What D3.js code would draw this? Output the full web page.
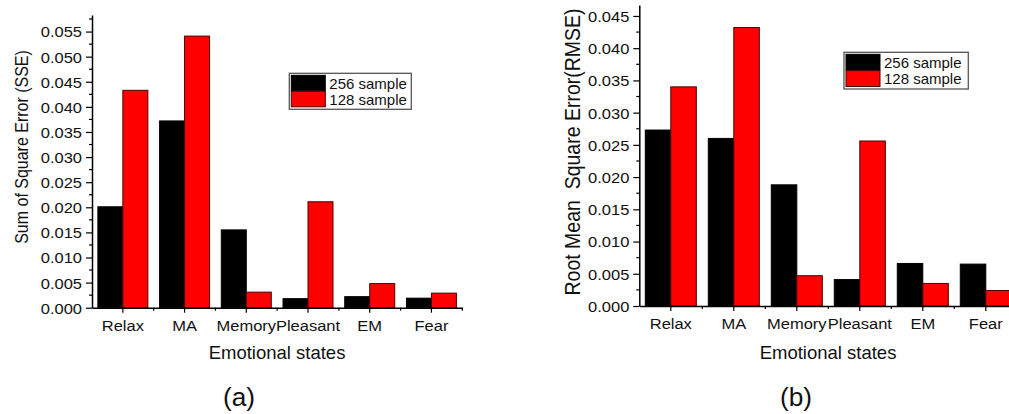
<!DOCTYPE html>
<html>
<head>
<meta charset="utf-8">
<script src="https://cdn.jsdelivr.net/npm/d3@7"></script>
<style>
  html, body { margin: 0; padding: 0; background: #fff; }
  svg { display: block; font-family: Arial, "Liberation Sans", sans-serif; }
</style>
</head>
<body>
<svg id="chart" width="1009" height="414"></svg>
<script>
// Emotional-state categories shared by both panels
const categories = ["Relax", "MA", "Memory", "Pleasant", "EM", "Fear"];
const seriesNames = ["256 sample", "128 sample"];
const seriesColors = ["#000000", "#ff0000"];

// Panel (a): sum of square error
const sse256 = [0.0201, 0.0372, 0.0155, 0.0018, 0.0022, 0.0019];
const sse128 = [0.0433, 0.0541, 0.0031, 0.0211, 0.0048, 0.0029];

// Panel (b): root mean square error
const rmse256 = [0.0273, 0.0260, 0.0188, 0.0041, 0.0066, 0.0065];
const rmse128 = [0.0340, 0.0432, 0.0047, 0.0256, 0.0035, 0.0024];

// Axis tick values
const sseTicks = [0, 0.005, 0.010, 0.015, 0.020, 0.025, 0.030, 0.035, 0.040, 0.045, 0.050, 0.055];
const rmseTicks = [0, 0.005, 0.010, 0.015, 0.020, 0.025, 0.030, 0.035, 0.040, 0.045];

const xTitle = "Emotional states";
const sseTitle = "Sum of Square Error (SSE)";
const rmseTitle = "Root Mean  Square Error(RMSE)";
const panelLabels = ["(a)", "(b)"];

const TICK_SX = 1.1;        // slight horizontal stretch of tick labels
const ink = "#111";
const fmt = d3.format(".3f");

const svg = d3.select("#chart");
svg.append("rect").attr("width", 1009).attr("height", 414).attr("fill", "#fff");

function drawPanel(cfg) {
  const g = svg.append("g");

  const x = d3.scaleBand()
    .domain(categories)
    .range([cfg.left, cfg.right])
    .paddingInner(0.19)
    .paddingOuter(0.095);

  const xs = d3.scaleBand()
    .domain(seriesNames)
    .range([0, x.bandwidth()]);

  const y = d3.scaleLinear()
    .domain([0, cfg.yMax])
    .range([cfg.base, cfg.top]);

  // bars
  const rows = categories.map((c, i) => ({ cat: c, vals: cfg.series.map(s => s[i]) }));
  const groups = g.selectAll("g.grp").data(rows).join("g")
    .attr("class", "grp")
    .attr("transform", d => `translate(${x(d.cat)},0)`);
  groups.selectAll("rect")
    .data(d => d.vals.map((v, k) => ({ v, k })))
    .join("rect")
    .attr("x", d => xs(seriesNames[d.k]))
    .attr("width", xs.bandwidth())
    .attr("y", d => y(d.v))
    .attr("height", d => y(0) - y(d.v))
    .attr("fill", d => seriesColors[d.k])
    .attr("stroke", d => d.k === 0 ? "#000" : "#4a0000")
    .attr("stroke-width", 1);

  // y axis
  const ya = g.append("g")
    .attr("transform", `translate(${cfg.left},0)`)
    .call(d3.axisLeft(y).tickValues(cfg.ticks).tickFormat(fmt).tickSize(6).tickSizeOuter(0));
  ya.select(".domain").attr("stroke", "#000").attr("stroke-width", 1.5);
  ya.selectAll(".tick line").attr("stroke", "#000").attr("stroke-width", 1.2);
  ya.selectAll(".tick text")
    .attr("x", 0).attr("dy", "0.36em")
    .attr("transform", `translate(-10,0) scale(${TICK_SX},1)`)
    .attr("font-size", 15).attr("fill", ink)
    .attr("font-family", "Arial, 'Liberation Sans', sans-serif");
  // minor ticks at half-steps
  const stepV = cfg.ticks[1] - cfg.ticks[0];
  const minors = cfg.ticks.map(t => t + stepV / 2).filter(t => t <= cfg.yMax);
  ya.selectAll("line.minor").data(minors).join("line")
    .attr("class", "minor")
    .attr("x1", -3).attr("x2", 0)
    .attr("y1", d => y(d)).attr("y2", d => y(d))
    .attr("stroke", "#000").attr("stroke-width", 1.2);

  // x axis
  const xa = g.append("g")
    .attr("transform", `translate(0,${cfg.base})`)
    .call(d3.axisBottom(x).tickSize(5).tickSizeOuter(0));
  xa.select(".domain").attr("stroke", "#000").attr("stroke-width", 1.5);
  xa.selectAll(".tick line").attr("stroke", "#000").attr("stroke-width", 1.2);
  xa.selectAll(".tick text")
    .attr("y", 0).attr("dy", "0.71em")
    .attr("transform", `translate(0,12.5) scale(${TICK_SX},1)`)
    .attr("font-size", 15).attr("fill", ink)
    .attr("font-family", "Arial, 'Liberation Sans', sans-serif");
  const bounds = d3.range(1, categories.length + 1).map(i => cfg.left + i * x.step());
  xa.selectAll("line.minor").data(bounds).join("line")
    .attr("class", "minor")
    .attr("x1", d => d).attr("x2", d => d)
    .attr("y1", 0).attr("y2", 3)
    .attr("stroke", "#000").attr("stroke-width", 1.2);

  // axis titles
  g.append("text")
    .attr("transform", `translate(${cfg.xTitleX},359)`)
    .attr("text-anchor", "middle")
    .attr("font-size", 18.5).attr("fill", ink)
    .text(xTitle);

  g.append("text")
    .attr("transform", `translate(${cfg.yTitleX},${cfg.yTitleY}) scale(1.1,1) rotate(-90)`)
    .attr("text-anchor", "middle")
    .attr("dy", "0.35em")
    .attr("font-size", cfg.yTitleSize).attr("fill", ink)
    .style("white-space", "pre")
    .text(cfg.yTitle);

  // panel label
  g.append("text")
    .attr("transform", `translate(${cfg.labelX},406) scale(1.05,1)`)
    .attr("text-anchor", "middle")
    .attr("font-size", 25).attr("fill", ink)
    .text(cfg.label);

  // legend
  const L = cfg.legend;
  const lg = g.append("g").attr("transform", `translate(${L.x},${L.y})`);
  lg.append("rect")
    .attr("width", L.w).attr("height", L.h)
    .attr("fill", "#fff").attr("stroke", "#555").attr("stroke-width", 1.3);
  const rowH = (L.h - 4) / 2;
  seriesNames.forEach((name, k) => {
    lg.append("rect")
      .attr("x", 2).attr("y", 2 + k * rowH)
      .attr("width", 34).attr("height", rowH - 0.5)
      .attr("fill", seriesColors[k])
      .attr("stroke", k === 0 ? "#000" : "#4a0000").attr("stroke-width", 1);
    lg.append("text")
      .attr("transform", `translate(40,${2 + k * rowH + rowH / 2})`)
      .attr("dy", "0.36em")
      .attr("font-size", 15).attr("fill", ink)
      .text(name);
  });
}

drawPanel({
  left: 92, right: 462.3, base: 307.7, top: 15, yMax: 0.0583,
  series: [sse256, sse128], ticks: sseTicks,
  yTitle: sseTitle, yTitleX: 22, yTitleY: 147, yTitleSize: 16,
  xTitleX: 277, label: panelLabels[0], labelX: 239,
  legend: { x: 289.3, y: 73.3, w: 122, h: 36 }
});

drawPanel({
  left: 639.3, right: 1017.3, base: 306, top: 5, yMax: 0.0467,
  series: [rmse256, rmse128], ticks: rmseTicks,
  yTitle: rmseTitle, yTitleX: 572, yTitleY: 152, yTitleSize: 19.5,
  xTitleX: 828, label: panelLabels[1], labelX: 796,
  legend: { x: 844, y: 52.3, w: 124.3, h: 36.7 }
});
</script>
</body>
</html>
